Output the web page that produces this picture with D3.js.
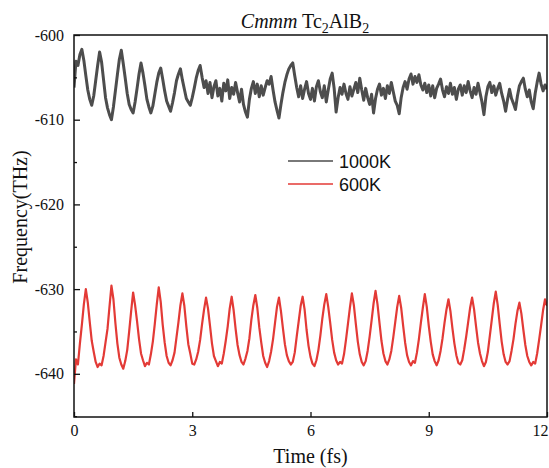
<!DOCTYPE html>
<html>
<head>
<meta charset="utf-8">
<script src="https://cdn.jsdelivr.net/npm/d3@7"></script>
<style>
  html, body { margin: 0; padding: 0; background: #fff; }
  svg { display: block; }
</style>
</head>
<body>
<div id="chart"></div>
<script>
/** Chart data */
const timeStep = 0.05; // fs between samples
const xTicks = [0, 3, 6, 9, 12];
const yTicks = [-600, -610, -620, -630, -640];
const yMinorTicks = [-605, -615, -625, -635, -645];
const seriesNames = ["1000K", "600K"];
const seriesColors = ["#4d4d4d", "#e33a36"];

const freq1000K = [
  -606.2, -603.1, -603.6, -602.3, -601.7, -603.0, -604.8, -606.5, -607.6, -608.3,
  -607.2, -605.4, -603.6, -602.0, -603.2, -605.3, -607.4, -608.6, -609.4, -610.0,
  -608.5, -606.6, -604.7, -602.9, -601.8, -603.4, -605.1, -606.9, -608.2, -608.8,
  -609.2, -607.9, -606.3, -604.6, -603.3, -604.5, -606.0, -607.6, -608.5, -609.2,
  -608.4, -607.0, -605.6, -604.5, -603.9, -605.2, -606.6, -607.8, -608.4, -609.0,
  -608.0, -606.8, -605.4, -604.6, -604.0, -605.3, -606.4, -607.5, -607.9, -608.3,
  -607.4, -606.3, -605.1, -604.2, -603.6, -605.0, -606.2, -605.4, -606.9, -605.6,
  -607.4, -606.1, -605.4, -607.2, -606.3, -607.8, -605.7, -606.6, -605.3, -607.5,
  -606.2, -607.0, -605.6, -606.8, -607.9, -606.4, -608.2, -609.1, -609.7, -607.6,
  -606.3, -605.5, -606.9, -605.8, -607.3, -606.0, -607.1, -606.2, -605.4, -605.8,
  -604.9, -606.5, -607.9, -608.9, -609.8, -608.2, -606.8, -605.6, -604.7, -604.0,
  -603.6, -603.3, -604.8, -606.2, -607.3, -606.0, -607.5, -606.4, -605.5, -606.9,
  -607.6, -606.3, -607.8, -606.1, -605.4, -606.7, -607.4, -606.0, -607.9, -606.5,
  -605.2, -604.5, -606.3, -609.1, -607.4, -606.2, -607.0, -605.8, -606.9, -607.6,
  -606.1, -607.2, -606.4, -605.6, -606.8, -605.1, -606.5, -607.7, -606.3, -607.4,
  -608.2, -607.0, -609.2, -607.5, -606.4, -605.8, -607.1, -606.3, -607.5, -606.0,
  -606.9, -605.6, -606.7, -607.8, -608.3, -609.3, -607.4, -606.2, -605.5, -606.4,
  -605.2, -604.6, -605.8, -604.9, -605.6, -604.7, -605.9, -606.5, -605.7, -606.8,
  -605.9, -607.2, -606.0, -607.4, -606.3, -605.8, -605.2, -606.5, -607.3, -606.1,
  -606.9, -605.7, -607.0, -606.2, -607.6, -606.4, -605.9, -607.1, -606.0, -606.8,
  -605.5, -606.6, -607.4, -606.2, -607.0, -605.7, -606.8, -607.9, -609.4, -607.3,
  -606.1, -605.6, -606.8, -606.0, -607.1, -606.3, -605.7, -606.9, -607.8, -609.0,
  -607.6, -606.4, -607.5, -608.1, -608.8, -607.2, -606.0, -605.5, -605.1, -606.4,
  -607.3, -606.5, -607.9, -608.7, -606.9, -605.6, -604.5, -605.8, -606.6, -605.9,
  -606.4
];

const freq600K = [
  -641.2, -638.3, -638.9, -636.4, -634.2, -631.8, -630.0, -631.6, -633.9, -636.1,
  -637.4, -638.6, -639.2, -638.8, -639.0, -637.9, -636.3, -634.7, -632.1, -629.6,
  -631.2, -634.0, -636.4, -638.1, -638.9, -639.4, -638.5, -637.2, -635.0, -632.6,
  -630.4, -631.9, -633.8, -635.9, -637.6, -638.4, -639.1, -638.7, -638.9, -637.7,
  -636.2, -634.1, -631.8, -629.8, -631.5, -634.2, -636.3, -637.9, -638.7, -639.0,
  -638.4, -637.5, -635.7, -633.9, -631.9, -630.5, -632.0, -634.4, -636.5, -637.6,
  -638.8, -638.9, -638.3, -637.4, -636.0, -634.1, -632.4, -631.0, -632.3, -634.3,
  -636.4, -637.9, -638.5, -639.1, -638.6, -638.8, -637.6, -636.1, -634.4, -632.3,
  -630.9, -632.5, -634.7, -636.6, -637.8, -638.6, -638.9, -638.2, -637.3, -635.8,
  -633.6, -631.9, -630.7, -632.2, -634.5, -636.3, -637.9, -638.7, -639.2, -638.5,
  -637.4, -635.9, -634.0, -632.1, -631.0, -632.6, -634.6, -636.5, -637.8, -638.5,
  -638.9, -638.6, -637.5, -635.6, -633.8, -632.0, -630.9, -632.4, -634.8, -636.7,
  -638.0, -638.8, -639.1, -638.4, -637.2, -635.5, -633.5, -631.8, -630.6, -632.1,
  -634.0, -636.0, -637.5, -638.4, -638.9, -638.6, -638.8, -637.7, -636.0, -634.1,
  -632.2, -630.5, -631.9, -634.1, -636.2, -637.7, -638.6, -639.0, -638.5, -637.3,
  -635.6, -633.7, -631.7, -630.2, -631.8, -634.0, -636.1, -637.6, -638.5, -638.9,
  -638.3, -637.3, -635.7, -633.9, -632.1, -630.8, -632.2, -634.3, -636.3, -637.8,
  -638.6, -639.0, -638.5, -638.7, -637.5, -635.9, -634.0, -632.2, -630.6, -632.1,
  -634.3, -636.2, -637.7, -638.5, -639.0, -638.4, -637.3, -635.8, -634.0, -632.4,
  -631.2, -632.6, -634.6, -636.4, -637.8, -638.7, -638.9, -638.4, -637.1, -635.6,
  -633.9, -632.2, -631.0, -632.4, -634.4, -636.3, -637.6, -638.5, -639.1, -638.6,
  -637.4, -635.5, -633.6, -631.7, -630.3, -631.9, -634.1, -636.2, -637.7, -638.6,
  -638.9, -638.5, -637.3, -635.9, -634.1, -632.6, -631.6, -632.9, -634.8, -636.6,
  -637.9, -638.6, -639.0, -638.6, -638.8, -637.6, -636.0, -634.3, -632.5, -631.2,
  -632.0
];

const serifFont = "'Liberation Serif', 'Times New Roman', serif";

function drawSvg() {

  /** Svg size and plot frame */
  const w = 549;
  const h = 468;
  const margin = {top: 35, right: 2, bottom: 51, left: 74};
  const width = w - margin.left - margin.right;
  const height = h - margin.top - margin.bottom;

  /** Scales */
  const xScale = d3.scaleLinear()
    .domain([0, 12])
    .range([0, width])
  ;

  const yScale = d3.scaleLinear()
    .domain([-645.1, -600])
    .range([height, 0])
  ;

  /** Axes, ticks pointing inwards like the Origin plot */
  const xAxis = d3.axisBottom(xScale)
    .tickValues(xTicks)
    .tickSizeInner(-5)
    .tickSizeOuter(0)
    .tickPadding(8)
    .tickFormat(d => String(d))
  ;

  const yAxis = d3.axisLeft(yScale)
    .tickValues(yTicks)
    .tickSizeInner(-6)
    .tickSizeOuter(0)
    .tickPadding(10)
    .tickFormat(d => String(d))
  ;

  const yAxisMinor = d3.axisLeft(yScale)
    .tickValues(yMinorTicks)
    .tickSizeInner(-3)
    .tickSizeOuter(0)
    .tickFormat("")
  ;

  const svg = d3.select("#chart")
    .append("svg")
    .attr("width", w)
    .attr("height", h)
  ;

  const g = svg.append("g")
    .attr("transform", "translate(" + margin.left + "," + margin.top + ")")
  ;

  g.append("clipPath")
    .attr("id", "plot-clip")
    .append("rect")
    .attr("width", width)
    .attr("height", height)
  ;

  /** Lines */
  const series = [freq1000K, freq600K];
  const line = d3.line()
    .x((d, i) => xScale(i * timeStep))
    .y(d => yScale(d))
  ;

  g.append("g")
    .attr("clip-path", "url(#plot-clip)")
    .selectAll("path")
    .data(series)
    .join("path")
    .attr("d", line)
    .attr("fill", "none")
    .attr("stroke", (d, i) => seriesColors[i])
    .attr("stroke-width", (d, i) => i === 0 ? 3 : 2.2)
    .attr("stroke-linejoin", "round")
  ;

  /** Frame */
  g.append("rect")
    .attr("width", width)
    .attr("height", height)
    .attr("fill", "none")
    .attr("stroke", "#111")
    .attr("stroke-width", 1.5)
  ;

  /** Style the tick marks and labels of an axis group */
  function styleAxis(a) {
    a.select(".domain").remove();
    a.attr("font-family", serifFont).attr("font-size", 16);
    a.selectAll(".tick line").attr("stroke", "#111").attr("stroke-width", 1.3);
    a.selectAll(".tick text").attr("fill", "#111");
  }

  // x-axis, last label pulled inside the svg edge
  g.append("g")
    .attr("transform", "translate(0," + height + ")")
    .call(xAxis)
    .call(styleAxis)
    .call(a => a.selectAll(".tick text").filter(d => d === 12).attr("text-anchor", "end").attr("dx", 1))
  ;

  // y-axis
  g.append("g")
    .call(yAxis)
    .call(styleAxis)
  ;

  g.append("g")
    .call(yAxisMinor)
    .call(styleAxis)
  ;

  /** Title */
  const title = svg.append("text")
    .attr("x", 305)
    .attr("y", 28)
    .attr("text-anchor", "middle")
    .attr("font-family", serifFont)
    .attr("font-size", 20)
    .attr("fill", "#111")
  ;
  title.append("tspan").attr("font-style", "italic").text("Cmmm");
  title.append("tspan").text(" Tc");
  title.append("tspan").attr("font-size", 14).attr("dy", 5).text("2");
  title.append("tspan").attr("dy", -5).text("AlB");
  title.append("tspan").attr("font-size", 14).attr("dy", 5).text("2");

  /** Axis labels */
  svg.append("text")
    .attr("x", margin.left + width / 2)
    .attr("y", 463)
    .attr("text-anchor", "middle")
    .attr("font-family", serifFont)
    .attr("font-size", 20)
    .attr("fill", "#111")
    .text("Time (fs)")
  ;

  svg.append("text")
    .attr("transform", "translate(27," + 217 + ") rotate(-90)")
    .attr("text-anchor", "middle")
    .attr("font-family", serifFont)
    .attr("font-size", 20)
    .attr("fill", "#111")
    .text("Frequency(THz)")
  ;

  /** Legend */
  const legend = svg.append("g")
    .attr("transform", "translate(288,161)")
  ;

  const items = legend.selectAll("g")
    .data(seriesNames)
    .join("g")
    .attr("transform", (d, i) => "translate(0," + i * 23 + ")")
  ;

  items.append("line")
    .attr("x1", 0)
    .attr("x2", 45)
    .attr("stroke", (d, i) => seriesColors[i])
    .attr("stroke-width", 1.5)
  ;

  items.append("text")
    .attr("x", 51)
    .attr("y", 6.5)
    .attr("font-family", "'Liberation Sans', Arial, sans-serif")
    .attr("font-size", 18)
    .attr("fill", "#111")
    .text(d => d)
  ;

}

drawSvg();
</script>
</body>
</html>
